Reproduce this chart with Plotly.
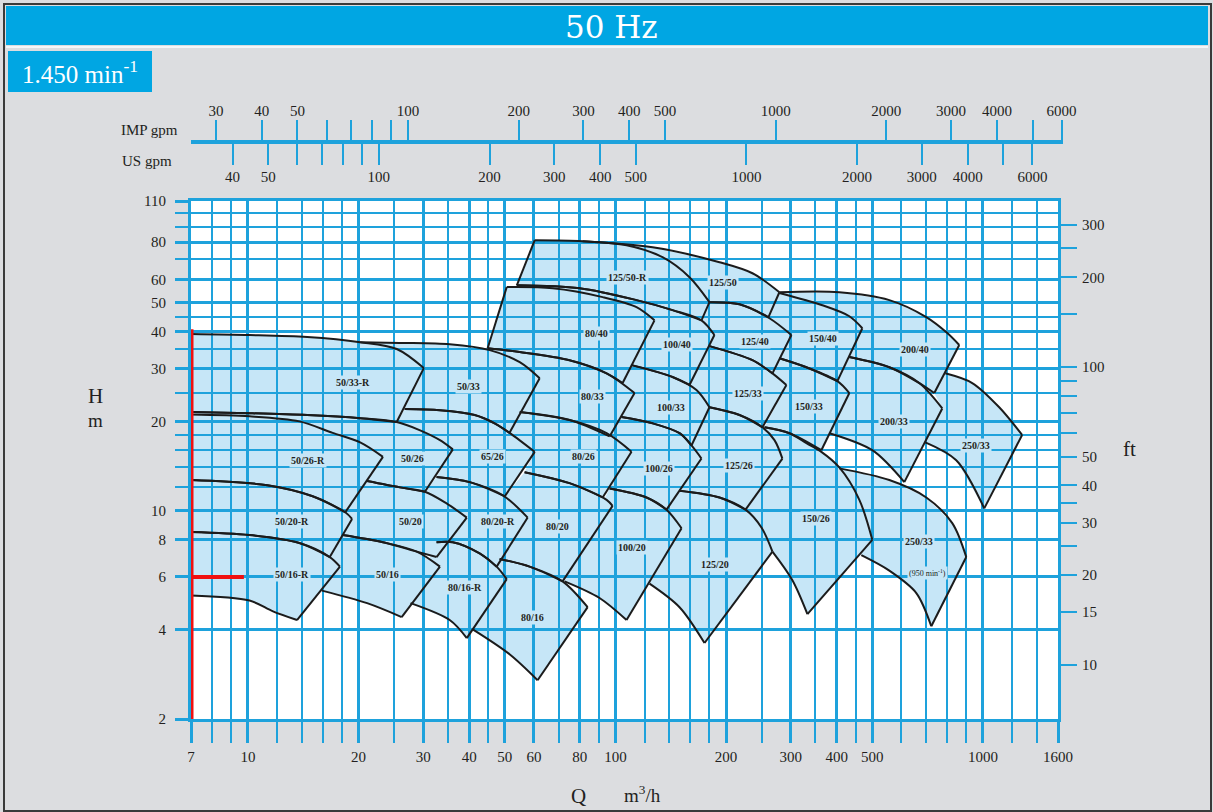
import numpy as np
import plotly.graph_objects as go

W, H = 1213, 812

GRID = "#1ea2dc"
BANNER = "#00a6e3"
FILL = "#c6e6f7"
INK = "#231f20"
PAGE = "#dcdde0"
SERIF = "Liberation Serif"

# ---- axes (Q in m3/h, H in m) ----
Q_RANGE = (7, 1600)
H_RANGE = (2, 110)
M3H_TO_IMP = 3.666
M3H_TO_US = 4.403
M_TO_FT = 3.28084

Q_MAJOR = [7, 10, 20, 30, 40, 50, 60, 80, 100, 200, 300, 400, 500, 1000, 1600]
Q_MINOR = [8, 9, 12, 14, 16, 18, 25, 35, 45, 70, 90, 120, 140, 160, 180,
           250, 350, 450, 600, 700, 800, 900, 1200, 1400]
H_MAJOR = [2, 4, 6, 8, 10, 20, 30, 40, 50, 60, 80, 110]
H_MINOR = [12, 14, 16, 18, 25, 35, 45, 70, 90, 100]

FT_TICKS = [10, 15, 20, 25, 30, 35, 40, 50, 60, 70, 80, 90, 100, 150, 200, 250, 300]
FT_LABELS = ["10", "15", "20", "", "30", "", "40", "50", "", "", "", "", "100", "", "200", "", "300"]

IMP_TICKS = [30, 40, 50, 60, 70, 80, 90, 100, 200, 300, 400, 500, 1000, 2000, 3000, 4000, 5000, 6000]
IMP_LABELS = ["30", "40", "50", "", "", "", "", "100", "200", "300", "400", "500",
              "1000", "2000", "3000", "4000", "", "6000"]
US_TICKS = [40, 50, 60, 70, 80, 90, 100, 200, 300, 400, 500, 1000, 2000, 3000, 4000, 5000, 6000]
US_LABELS = ["40", "50", "", "", "", "", "100", "200", "300", "400", "500",
             "1000", "2000", "3000", "4000", "", "6000"]

# ---- pump hydraulic ranges: (Q, H) along max (top) and min (bottom) impeller curves ----
TOP_50_33R = [(7, 39.3), (10.1, 39.0), (14.5, 38.4), (20.2, 36.9), (25.4, 35.0), (30.1, 30.2)]
BOT_50_33R = [(7, 21.5), (10.1, 21.3), (14.5, 21.0), (20.2, 20.5), (25.4, 19.9)]
TOP_50_33 = [(20.2, 36.9), (25.9, 36.7), (35.4, 36.3), (45.5, 34.7), (54.9, 31.6), (62.2, 27.9)]
BOT_50_33 = [(26.7, 22.0), (33.3, 21.8), (41.4, 21.0), (46.9, 19.7), (51.5, 18.3)]
TOP_50_26R = [(7, 21.1), (10.1, 20.8), (13.8, 20.0), (17.0, 18.3), (20.2, 17.0), (23.3, 15.2)]
BOT_50_26R = [(7, 12.7), (11.3, 12.2), (15.0, 11.2), (18.4, 9.9)]
TOP_50_26 = [(7, 21.5), (10.1, 21.3), (14.5, 21.0), (20.2, 20.5), (25.4, 19.9), (29.3, 18.7),
             (33.3, 17.3), (36.1, 16.1)]
BOT_50_26 = [(21.1, 12.6), (25.9, 12.0), (30.3, 11.6)]
TOP_50_20R = [(7, 12.7), (11.3, 12.2), (15.0, 11.2), (18.4, 9.9), (19.2, 9.4)]
BOT_50_20R = [(7, 8.5), (10.1, 8.3), (13.8, 7.8), (16.7, 7.0)]
TOP_50_20 = [(21.1, 12.6), (25.9, 12.0), (30.3, 11.6), (34.7, 10.6), (39.4, 9.5)]
BOT_50_20 = [(18.1, 8.3), (23.3, 7.85), (28.8, 7.3), (32.6, 7.0)]
LEFT_50_20 = [(19.2, 9.4), (18.4, 9.9)]
TOP_50_16R = [(7, 8.5), (10.1, 8.3), (13.8, 7.8), (16.7, 7.0), (17.8, 6.5)]
BOT_50_16R = [(7, 5.2), (10.1, 5.0), (11.7, 4.6), (13.6, 4.3)]
TOP_50_16 = [(18.1, 8.3), (23.3, 7.85), (28.8, 7.3), (33.3, 6.5)]
BOT_50_16 = [(15.9, 5.4), (21.1, 4.9), (26.2, 4.4)]
LEFT_50_16 = [(17.8, 6.5), (16.7, 7.0)]
TOP_65_26 = [(26.7, 22.0), (33.3, 21.8), (41.4, 21.0), (46.9, 19.7), (51.5, 18.3), (60.3, 15.8)]
BOT_65_26 = [(32.6, 13.0), (40.1, 12.5), (50.0, 11.2)]
LEFT_65_26 = [(36.1, 16.1), (25.4, 19.9)]
TOP_80_20R = [(32.6, 13.0), (40.1, 12.5), (49.3, 11.3), (57.7, 9.5)]
BOT_80_20R = [(32.6, 7.85), (36.1, 7.85), (42.7, 7.2), (47.5, 6.5)]
LEFT_80_20R = [(30.3, 11.6)]
TOP_80_16R = [(32.6, 7.85), (36.1, 7.85), (42.7, 7.2), (47.5, 6.5), (50.6, 5.9)]
BOT_80_16R = [(27.7, 4.9), (35.4, 4.3), (39.4, 3.74)]
TOP_80_16 = [(48.4, 6.9), (58.4, 6.5), (71.8, 5.8), (84.0, 4.75)]
BOT_80_16 = [(40.9, 4.0), (51.5, 3.3), (61.4, 2.7)]
TOP_80_20 = [(56.6, 13.5), (75.0, 12.4), (94.6, 10.9), (98.2, 10.4)]
BOT_80_20 = [(48.4, 6.9), (58.4, 6.5), (71.8, 5.8)]
LEFT_80_20 = [(57.7, 9.5), (50.0, 11.2)]
TOP_80_26 = [(54.9, 21.5), (75.0, 20.2), (94.6, 18.25), (110.6, 15.8)]
BOT_80_26 = [(56.6, 13.5), (75.0, 12.4), (92.3, 11.1)]
LEFT_80_26 = [(60.3, 15.8), (51.5, 18.3)]
TOP_80_33 = [(44.9, 35.2), (54.9, 34.2), (75.0, 32.1), (94.6, 29.0), (112.7, 24.9)]
BOT_80_33 = [(54.9, 21.5), (75.0, 20.2), (96.4, 17.8)]
TOP_80_40 = [(50.6, 56.5), (67.5, 56.0), (92.3, 52.3), (114.1, 48.4), (127.7, 43.7)]
BOT_80_40 = [(44.9, 35.2), (54.9, 34.2), (75.0, 32.1), (94.6, 29.0), (104.6, 26.9)]
TOP_125_50R = [(60.3, 81.2), (81.4, 80.6), (107.2, 78.1), (134.3, 71.2), (159.0, 61.0), (180.2, 50.3)]
BOT_125_50R = [(53.9, 57.3), (79.9, 56.0), (114.1, 51.1), (143.0, 47.3), (171.4, 43.7)]
TOP_125_50 = [(81.4, 80.6), (126.2, 76.9), (191.9, 68.5), (235.9, 62.9), (279.3, 54.3)]
BOT_125_50 = [(180.2, 50.3), (217.5, 49.5), (260.8, 44.8)]
TOP_100_40 = [(53.9, 57.3), (79.9, 56.0), (114.1, 51.1), (143.0, 47.3), (171.4, 43.7), (185.9, 39.0)]
BOT_100_40 = [(110.6, 30.9), (143.0, 28.2), (159.0, 26.5)]
TOP_100_33 = [(110.6, 30.9), (143.0, 28.2), (166.1, 25.5), (180.2, 22.3)]
BOT_100_33 = [(103.9, 20.7), (126.2, 19.7), (149.4, 18.25), (161.0, 16.6)]
LEFT_100_33 = [(112.7, 24.9), (104.6, 26.9)]
TOP_100_26 = [(103.9, 20.7), (126.2, 19.7), (149.4, 18.25), (161.0, 16.6), (171.4, 15.0)]
BOT_100_26 = [(96.4, 11.9), (121.5, 11.1), (137.7, 10.1)]
LEFT_100_26 = [(110.6, 15.8), (96.4, 17.8)]
TOP_100_20 = [(96.4, 11.9), (121.5, 11.1), (137.7, 10.1), (151.3, 8.75)]
BOT_100_20 = [(72.7, 5.8), (90.5, 5.1), (107.2, 4.3)]
TOP_125_20 = [(149.4, 11.7), (191.9, 11.1), (225.9, 10.1), (249.6, 8.8), (267.4, 7.3)]
BOT_125_20 = [(123.8, 5.7), (149.4, 4.75), (174.7, 3.6)]
LEFT_125_20 = [(151.3, 8.75), (137.7, 10.1)]
TOP_125_40 = [(180.2, 50.3), (217.5, 49.5), (262.4, 44.4), (301.1, 39.0)]
BOT_125_40 = [(180.2, 35.8), (235.9, 32.1), (267.4, 29.0)]
LEFT_125_40 = [(185.9, 39.0), (171.4, 43.7)]
TOP_125_33 = [(180.2, 35.8), (235.9, 32.1), (267.4, 29.0), (291.8, 26.5)]
BOT_125_33 = [(180.2, 22.3), (217.5, 21.0), (251.2, 19.1)]
LEFT_125_33 = [(166.1, 25.5), (159.0, 26.5)]
TOP_125_26 = [(180.2, 22.3), (217.5, 21.0), (251.2, 19.1), (270.8, 17.3), (284.6, 15.0)]
BOT_125_26 = [(149.4, 11.7), (191.9, 11.1), (225.9, 10.1)]
LEFT_125_26 = [(171.4, 15.0), (161.0, 16.6)]
TOP_150_40 = [(279.3, 54.0), (365.6, 49.1), (432.9, 45.1), (469.6, 41.1)]
BOT_150_40 = [(279.3, 32.6), (330.8, 30.4), (401.7, 27.3)]
LEFT_150_40 = [(301.1, 39.0), (260.8, 44.8)]
TOP_150_33 = [(279.3, 32.6), (330.8, 30.4), (401.7, 27.3), (432.9, 24.9)]
BOT_150_33 = [(254.4, 19.1), (297.4, 18.25), (363.3, 16.0)]
LEFT_150_33 = [(291.8, 26.5), (267.4, 29.0)]
TOP_200_40 = [(279.3, 54.3), (406.6, 54.3), (556.1, 51.1), (701.0, 44.8), (799.6, 39.6), (861.8, 36.1)]
BOT_200_40 = [(432.9, 32.9), (556.1, 30.4), (670.9, 26.9), (737.1, 24.9)]
TOP_200_33 = [(432.9, 32.9), (556.1, 30.4), (670.9, 26.9), (774.8, 22.1)]
BOT_200_33 = [(382.0, 18.25), (499.9, 16.0), (610.9, 12.5)]
LEFT_200_33 = [(432.9, 24.9), (401.7, 27.3)]
TOP_250_33 = [(789.6, 29.0), (934.9, 26.9), (1107, 22.3), (1277.8, 18.0)]
BOT_250_33 = [(696.7, 17.0), (845.8, 14.8), (1008, 10.2)]
LEFT_250_33 = [(774.8, 22.1), (737.1, 24.9)]
TOP_150_26 = [(254.4, 19.1), (297.4, 18.25), (330.8, 16.9), (363.3, 15.8), (406.6, 14.0),
              (460.9, 10.9), (499.9, 8.0)]
BOT_150_26 = [(267.4, 7.3), (303.0, 5.85), (332.9, 4.5)]
LEFT_150_26 = [(249.6, 8.8), (225.9, 10.1)]
TOP_250_33_950 = [(406.6, 13.9), (556.1, 12.7), (701.0, 11.1), (824.9, 9.1), (900.5, 7.0)]
BOT_250_33_950 = [(466.7, 7.1), (556.1, 6.3), (658.5, 5.3), (723.3, 4.1)]

# name, top, bottom, left boundary (fill only, from bottom up), label (Q, H), draw left edge
PUMPS = [
    ("125/50-R", TOP_125_50R, BOT_125_50R, [], (108, 61), True),
    ("125/50", TOP_125_50, BOT_125_50, [], (196, 58.7), False),
    ("80/40", TOP_80_40, BOT_80_40, [], (88.9, 39.6), True),
    ("100/40", TOP_100_40, BOT_100_40, [], (146.6, 36.3), False),
    ("125/40", TOP_125_40, BOT_125_40, LEFT_125_40, (240, 37.2), False),
    ("150/40", TOP_150_40, BOT_150_40, LEFT_150_40, (366, 38.1), False),
    ("200/40", TOP_200_40, BOT_200_40, [], (654, 35.0), False),
    ("50/33-R", TOP_50_33R, BOT_50_33R, [], (19.3, 27.1), False),
    ("50/33", TOP_50_33, BOT_50_33, [], (39.9, 26.1), False),
    ("80/33", TOP_80_33, BOT_80_33, [], (86.7, 24.3), False),
    ("100/33", TOP_100_33, BOT_100_33, LEFT_100_33, (142, 22.3), False),
    ("125/33", TOP_125_33, BOT_125_33, LEFT_125_33, (229, 24.9), False),
    ("150/33", TOP_150_33, BOT_150_33, LEFT_150_33, (337, 22.5), False),
    ("200/33", TOP_200_33, BOT_200_33, LEFT_200_33, (574, 20.0), False),
    ("250/33", TOP_250_33, BOT_250_33, LEFT_250_33, (959, 16.6), False),
    ("50/26-R", TOP_50_26R, BOT_50_26R, [], (14.6, 14.8), False),
    ("50/26", TOP_50_26, BOT_50_26, [], (28.1, 15.0), False),
    ("65/26", TOP_65_26, BOT_65_26, LEFT_65_26, (46.3, 15.2), False),
    ("80/26", TOP_80_26, BOT_80_26, LEFT_80_26, (81.9, 15.2), False),
    ("100/26", TOP_100_26, BOT_100_26, LEFT_100_26, (131, 13.9), False),
    ("125/26", TOP_125_26, BOT_125_26, LEFT_125_26, (217.5, 14.25), False),
    ("150/26", TOP_150_26, BOT_150_26, LEFT_150_26, (352, 9.46), False),
    ("250/33", TOP_250_33_950, BOT_250_33_950, [], (671, 7.9), False),
    ("50/20-R", TOP_50_20R, BOT_50_20R, [], (13.2, 9.2), False),
    ("50/20", TOP_50_20, BOT_50_20, LEFT_50_20, (27.7, 9.2), False),
    ("80/20-R", TOP_80_20R, BOT_80_20R, LEFT_80_20R, (47.8, 9.2), False),
    ("80/20", TOP_80_20, BOT_80_20, LEFT_80_20, (69.6, 8.9), False),
    ("100/20", TOP_100_20, BOT_100_20, [], (110.6, 7.55), False),
    ("125/20", TOP_125_20, BOT_125_20, LEFT_125_20, (187, 6.6), False),
    ("50/16-R", TOP_50_16R, BOT_50_16R, [], (13.2, 6.1), False),
    ("50/16", TOP_50_16, BOT_50_16, LEFT_50_16, (24.0, 6.1), False),
    ("80/16-R", TOP_80_16R, BOT_80_16R, [], (38.9, 5.55), False),
    ("80/16", TOP_80_16, BOT_80_16, [], (59.5, 4.4), False),
]
SPEED_NOTE = ("(950 min<sup>-1</sup>)", (705, 6.2))

# reference marker: design point lines
MARK_Q_V = [7, 7]
MARK_H_V = [2, 40.8]
MARK_Q_H = [7, 9.75]
MARK_H_H = [6, 6]


def px(x):
    return x / W


def py(y):
    return 1 - y / H


X_DOM = [px(191), px(1058)]
Y_DOM = [py(719), py(201)]
GPM_DOM = [px(191), px(1063)]

lq0, lq1 = np.log10(Q_RANGE[0]), np.log10(Q_RANGE[1])
lh0, lh1 = np.log10(H_RANGE[0]), np.log10(H_RANGE[1])
# gpm scale runs a little past the chart frame on the right
lq_gpm_end = lq0 + (GPM_DOM[1] - GPM_DOM[0]) / (X_DOM[1] - X_DOM[0]) * (lq1 - lq0)

fig = go.Figure()

# filled ranges on the lower subplot (drawn beneath the grid)
for name, top, bot, left, _, _ in PUMPS:
    ring = top + bot[::-1] + left
    fig.add_trace(go.Scatter(
        x=[p[0] for p in ring], y=[p[1] for p in ring],
        xaxis="x", yaxis="y", mode="lines", fill="toself",
        fillcolor=FILL, line=dict(width=0, color=FILL), hoverinfo="skip"))

# outlines on the upper subplot (drawn over the grid)
for name, top, bot, _, _, left_edge in PUMPS:
    xs, ys = [], []
    xs += [p[0] for p in top] + [None]
    ys += [p[1] for p in top] + [None]
    xs += [top[-1][0], bot[-1][0], None]
    ys += [top[-1][1], bot[-1][1], None]
    xs += [p[0] for p in bot]
    ys += [p[1] for p in bot]
    if left_edge:
        xs += [None, bot[0][0], top[0][0]]
        ys += [None, bot[0][1], top[0][1]]
    fig.add_trace(go.Scatter(
        x=xs, y=ys, xaxis="x2", yaxis="y2", mode="lines",
        line=dict(color="#1b1b1b", width=2, shape="spline", smoothing=0.9),
        hoverinfo="skip"))

fig.add_trace(go.Scatter(x=MARK_Q_V, y=MARK_H_V, xaxis="x2", yaxis="y2", mode="lines",
                         line=dict(color="#f01010", width=5), hoverinfo="skip"))
fig.add_trace(go.Scatter(x=MARK_Q_H, y=MARK_H_H, xaxis="x2", yaxis="y2", mode="lines",
                         line=dict(color="#f01010", width=4), hoverinfo="skip"))

# carriers for the secondary scales
fig.add_trace(go.Scatter(x=[], y=[], xaxis="x2", yaxis="y3", hoverinfo="skip"))
fig.add_trace(go.Scatter(x=[], y=[], xaxis="x3", yaxis="y4", hoverinfo="skip"))
fig.add_trace(go.Scatter(x=[], y=[], xaxis="x4", yaxis="y4", hoverinfo="skip"))

tickfont = dict(family=SERIF, size=15, color=INK)

annotations = []
for name, top, bot, _, (lq, lh), _ in PUMPS:
    annotations.append(dict(
        x=np.log10(lq), y=np.log10(lh), xref="x2", yref="y2", text=f"<b>{name}</b>",
        showarrow=False, font=dict(family=SERIF, size=10, color=INK),
        bgcolor=FILL, borderpad=1))
note_text, (nq, nh) = SPEED_NOTE
annotations.append(dict(
    x=np.log10(nq), y=np.log10(nh), xref="x2", yref="y2", text=note_text,
    showarrow=False, font=dict(family=SERIF, size=8, color=INK), bgcolor=FILL, borderpad=1))


def paper_text(x, y, text, size, color=INK, family=SERIF, **kw):
    annotations.append(dict(x=px(x), y=py(y), xref="paper", yref="paper", text=text,
                            xanchor="center", yanchor="middle", showarrow=False,
                            font=dict(family=family, size=size, color=color), **kw))


paper_text(611, 27, "50 Hz", 31, color="white", family="DejaVu Serif")
paper_text(80, 72, "1.450 min<sup>-1</sup>", 25, color="white")
paper_text(149, 130, "IMP gpm", 15)
paper_text(147, 161, "US gpm", 15)
paper_text(95, 396, "H", 21)
paper_text(95, 421, "m", 19)
paper_text(1129, 449, "ft", 21)
paper_text(578, 796, "Q", 21)
paper_text(642, 794, "m<sup>3</sup>/h", 19)

shapes = [
    dict(type="rect", xref="paper", yref="paper", x0=px(4), x1=px(1211), y0=py(811), y1=py(4),
         line=dict(color="#3a3a3a", width=2), fillcolor="rgba(0,0,0,0)", layer="below"),
    dict(type="rect", xref="paper", yref="paper", x0=px(6), x1=px(1208), y0=py(45), y1=py(6),
         line=dict(width=0), fillcolor=BANNER, layer="below"),
    dict(type="line", xref="paper", yref="paper", x0=px(6), x1=px(1208), y0=py(47), y1=py(47),
         line=dict(color="#f4f6f8", width=2), layer="below"),
    dict(type="rect", xref="paper", yref="paper", x0=px(8), x1=px(152), y0=py(92), y1=py(51),
         line=dict(width=0), fillcolor=BANNER, layer="below"),
    dict(type="rect", xref="x domain", yref="y domain", x0=0, x1=1, y0=0, y1=1,
         line=dict(width=0), fillcolor="white", layer="below"),
]

grid_axis = dict(type="log", showgrid=True, gridcolor=GRID, gridwidth=3, zeroline=False,
                 ticks="outside", tickcolor=GRID, tickwidth=3, automargin=False,
                 showline=True, mirror=True, linecolor=GRID, linewidth=3,
                 tickfont=tickfont, tickmode="array")

fig.update_layout(
    width=W, height=H, autosize=False,
    margin=dict(l=0, r=0, t=0, b=0, pad=0, autoexpand=False),
    paper_bgcolor=PAGE, plot_bgcolor="rgba(0,0,0,0)", showlegend=False,
    xaxis=dict(type="log", domain=X_DOM, range=[lq0, lq1], visible=False, anchor="y",
               automargin=False),
    yaxis=dict(type="log", domain=Y_DOM, range=[lh0, lh1], visible=False, anchor="x",
               automargin=False),
    xaxis2=dict(grid_axis, domain=X_DOM, range=[lq0, lq1], anchor="y2",
                tickvals=Q_MAJOR, ticktext=[str(v) for v in Q_MAJOR], ticklen=21,
                ticklabelstandoff=1,
                minor=dict(tickvals=Q_MINOR, ticks="outside", ticklen=21, tickwidth=1.5,
                           tickcolor=GRID, showgrid=True, gridcolor=GRID, gridwidth=1.5)),
    yaxis2=dict(grid_axis, domain=Y_DOM, range=[lh0, lh1], anchor="x2",
                tickvals=H_MAJOR, ticktext=[str(v) for v in H_MAJOR], ticklen=13,
                ticklabelstandoff=6,
                minor=dict(tickvals=H_MINOR, ticks="outside", ticklen=13, tickwidth=1.5,
                           tickcolor=GRID, showgrid=True, gridcolor=GRID, gridwidth=1.5)),
    yaxis3=dict(type="log", overlaying="y2", side="right", anchor="x2", automargin=False,
                range=[lh0 + np.log10(M_TO_FT), lh1 + np.log10(M_TO_FT)],
                tickmode="array", tickvals=FT_TICKS, ticktext=FT_LABELS,
                ticks="outside", ticklen=18, tickwidth=1.5, tickcolor=GRID,
                showgrid=False, zeroline=False, showline=False, tickfont=tickfont,
                ticklabelstandoff=2),
    xaxis3=dict(type="log", domain=GPM_DOM, anchor="free", position=py(142), side="top",
                automargin=False,
                range=[lq0 + np.log10(M3H_TO_IMP), lq_gpm_end + np.log10(M3H_TO_IMP)],
                tickmode="array", tickvals=IMP_TICKS, ticktext=IMP_LABELS,
                ticks="outside", ticklen=20, tickwidth=2, tickcolor=GRID,
                showline=True, linecolor=GRID, linewidth=4,
                showgrid=False, zeroline=False, tickfont=tickfont, ticklabelstandoff=-2),
    xaxis4=dict(type="log", overlaying="x3", anchor="free", position=py(142), side="bottom",
                automargin=False,
                range=[lq0 + np.log10(M3H_TO_US), lq_gpm_end + np.log10(M3H_TO_US)],
                tickmode="array", tickvals=US_TICKS, ticktext=US_LABELS,
                ticks="outside", ticklen=22, tickwidth=2, tickcolor=GRID,
                showline=False, showgrid=False, zeroline=False, tickfont=tickfont,
                ticklabelstandoff=-1),
    yaxis4=dict(domain=[py(170), py(115)], range=[0, 1], visible=False, anchor="x3",
                automargin=False),
    annotations=annotations,
    shapes=shapes,
)

fig.write_html("out.html")
